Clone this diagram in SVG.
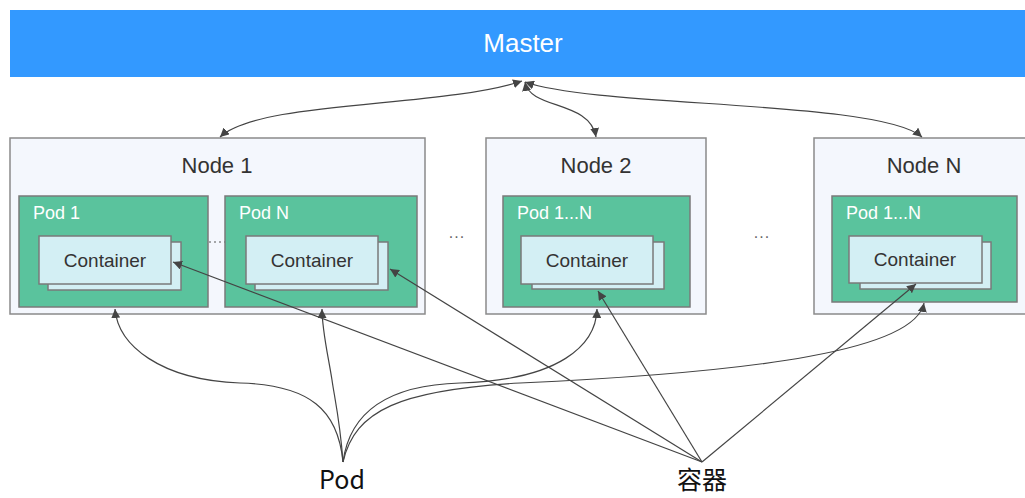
<svg xmlns="http://www.w3.org/2000/svg" width="1025" height="498" viewBox="0 0 1025 498">
<defs>
<style>
.node{fill:#f4f7fd;stroke:#8a8a8a;stroke-width:1.5}
.pod{fill:#5ac39d;stroke:#7a7a7a;stroke-width:1.5}
.ctr{fill:#d3eff4;stroke:#7a7a7a;stroke-width:1.5}
.t{font-family:"Liberation Sans",Arial,sans-serif;fill:#333}
.title{font-size:22px;text-anchor:middle}
.podl{font-size:18px;fill:#fff}
.ctl{font-size:19px;text-anchor:middle}
.dots{font-size:16px;fill:#666;text-anchor:middle;letter-spacing:1px}
.conn path,.conn line{fill:none;stroke:#444;stroke-width:1.2}
.lbl{font-family:"Noto Sans CJK SC","Noto Sans",sans-serif;font-size:25px;fill:#111;text-anchor:middle}
</style>
<marker id="ah" viewBox="0 0 10 10" refX="10" refY="5" markerWidth="9" markerHeight="9" markerUnits="userSpaceOnUse" orient="auto-start-reverse">
<path d="M0,0 L10,5 L0,10 z" fill="#444"/>
</marker>
</defs>
<rect width="1025" height="498" fill="#fff"/>
<g id="master">
<rect x="10" y="10" width="1020" height="67" fill="#3399ff"/>
<text x="523" y="52" font-family="Liberation Sans,Arial,sans-serif" font-size="26" fill="#fff" text-anchor="middle">Master</text>
</g>
<g id="node1">
<rect class="node" x="10" y="138" width="415" height="176"/>
<text class="t title" x="217" y="173">Node 1</text>
<g id="node1-pod1">
<rect class="pod" x="19" y="196" width="189" height="111"/>
<text class="t podl" x="33" y="219">Pod 1</text>
<rect class="ctr" x="48" y="242" width="133" height="48"/>
<rect class="ctr" x="39" y="236" width="132" height="48"/>
<text class="t ctl" x="105" y="267">Container</text>
</g>
<line x1="209" y1="242" x2="225" y2="242" stroke="#555" stroke-width="1" stroke-dasharray="2,3"/>
<g id="node1-podN">
<rect class="pod" x="225" y="196" width="192" height="111"/>
<text class="t podl" x="239" y="219">Pod N</text>
<rect class="ctr" x="255" y="242" width="133" height="48"/>
<rect class="ctr" x="246" y="236" width="132" height="48"/>
<text class="t ctl" x="312" y="267">Container</text>
</g>
</g>
<text class="t dots" x="457" y="238">...</text>
<g id="node2">
<rect class="node" x="486" y="138" width="220" height="176"/>
<text class="t title" x="596" y="173">Node 2</text>
<rect class="pod" x="503" y="196" width="187" height="111"/>
<text class="t podl" x="517" y="219">Pod 1...N</text>
<rect class="ctr" x="532" y="242" width="132" height="47"/>
<rect class="ctr" x="521" y="236" width="132" height="48"/>
<text class="t ctl" x="587" y="267">Container</text>
</g>
<text class="t dots" x="762" y="238">...</text>
<g id="nodeN">
<rect class="node" x="814" y="138" width="216" height="176"/>
<text class="t title" x="924" y="173">Node N</text>
<rect class="pod" x="832" y="196" width="185" height="106"/>
<text class="t podl" x="846" y="219">Pod 1...N</text>
<rect class="ctr" x="860" y="242" width="131" height="47"/>
<rect class="ctr" x="849" y="236" width="133" height="47"/>
<text class="t ctl" x="915" y="266">Container</text>
</g>
<g id="connectors" class="conn">
<path d="M522,81 C440,108 260,100 220,137" marker-start="url(#ah)" marker-end="url(#ah)"/>
<path d="M525,82 C530,110 590,100 596,137" marker-start="url(#ah)" marker-end="url(#ah)"/>
<path d="M525,82 C600,108 880,100 922,137" marker-start="url(#ah)" marker-end="url(#ah)"/>
<path d="M343,462 C338,410 310,385 240,383 C160,380 118,345 115,309" marker-end="url(#ah)"/>
<path d="M343,462 C340,420 334,395 332,380 C328,355 322,330 322,309" marker-end="url(#ah)"/>
<path d="M343,462 C350,410 390,385 460,383 C560,380 596,345 597,309" marker-end="url(#ah)"/>
<path d="M343,462 C355,410 400,390 520,383 C760,372 915,350 924,303" marker-end="url(#ah)"/>
<line x1="702" y1="462" x2="173" y2="262" marker-end="url(#ah)"/>
<line x1="702" y1="462" x2="390" y2="269" marker-end="url(#ah)"/>
<line x1="702" y1="462" x2="598" y2="291" marker-end="url(#ah)"/>
<line x1="702" y1="462" x2="916" y2="284" marker-end="url(#ah)"/>
</g>
<g id="labels">
<text class="lbl" x="342" y="489">Pod</text>
<text class="lbl" x="702" y="489">容器</text>
</g>
</svg>
